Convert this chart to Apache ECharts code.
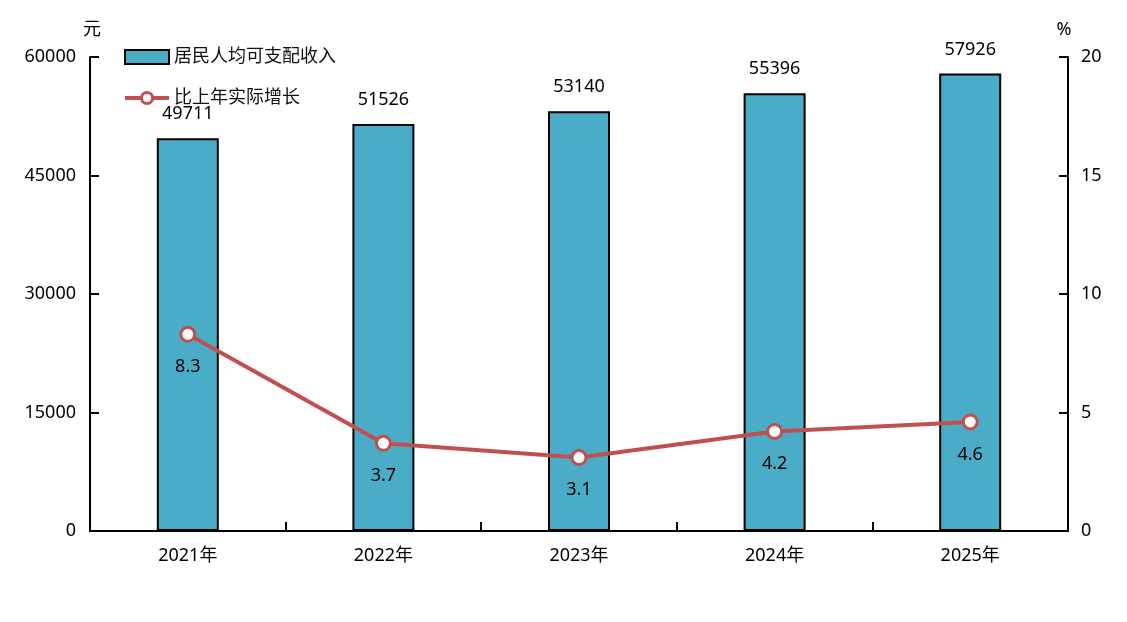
<!DOCTYPE html>
<html>
<head>
<meta charset="utf-8">
<script src="https://cdn.jsdelivr.net/npm/echarts@6/dist/echarts.min.js"></script>
<style>
    html, body { margin: 0; padding: 0; background: #fff; }
    #main { width: 1127px; height: 622px; }
</style>
</head>
<body>
<div id="main"></div>
<script>
var years = ['2021年', '2022年', '2023年', '2024年', '2025年'];
var income = [49711, 51526, 53140, 55396, 57926];
var growth = [8.3, 3.7, 3.1, 4.2, 4.6];

~function () {
    var myChart = echarts.init(document.getElementById('main'));
    var font = '"Noto Sans", "Noto Sans CJK SC", sans-serif';
    var option = {
        animation: false,
        textStyle: {fontFamily: font},
        legend: {
            orient: 'vertical',
            left: 118,
            top: 43,
            itemWidth: 44,
            itemHeight: 14,
            itemGap: 23,
            textStyle: {fontSize: 18, color: '#111', fontFamily: font},
            data: [
                {name: '居民人均可支配收入', icon: 'rect', itemStyle: {borderWidth: 2, borderColor: '#000'}},
                {name: '比上年实际增长', itemStyle: {borderWidth: 3}, lineStyle: {width: 4}}
            ]
        },
        grid: {
            left: 90,
            right: 59,
            top: 57,
            bottom: 91,
            containLabel: false
        },
        xAxis: [
            {
                type: 'category',
                data: years,
                axisLine: {lineStyle: {color: '#000', width: 2}},
                axisTick: {show: true, inside: true, length: 9, lineStyle: {color: '#000', width: 2}},
                axisLabel: {fontSize: 18, color: '#000', margin: 16}
            }
        ],
        yAxis: [
            {
                type: 'value',
                min: 0,
                max: 60000,
                interval: 15000,
                name: '元',
                nameGap: 18,
                nameTextStyle: {fontSize: 18, color: '#000', padding: [0, 0, 0, 4]},
                splitLine: {show: false},
                axisLine: {show: true, lineStyle: {color: '#000', width: 2}},
                axisTick: {show: true, inside: true, length: 9, lineStyle: {color: '#000', width: 2}},
                axisLabel: {
                    fontSize: 18,
                    color: '#000',
                    margin: 14,
                    formatter: function (v) { return String(v); }
                }
            },
            {
                type: 'value',
                min: 0,
                max: 20,
                interval: 5,
                name: '%',
                nameGap: 18,
                nameTextStyle: {fontSize: 18, color: '#000', padding: [0, 8, 0, 0]},
                splitLine: {show: false},
                axisLine: {show: true, lineStyle: {color: '#000', width: 2}},
                axisTick: {show: true, inside: true, length: 9, lineStyle: {color: '#000', width: 2}},
                axisLabel: {fontSize: 18, color: '#000', margin: 13}
            }
        ],
        series: [
            {
                name: '居民人均可支配收入',
                type: 'bar',
                data: income,
                barWidth: 62,
                itemStyle: {color: '#4AACC6', borderColor: '#000', borderWidth: 2},
                label: {
                    show: true,
                    position: 'top',
                    distance: 15,
                    fontSize: 18,
                    color: '#000'
                }
            },
            {
                name: '比上年实际增长',
                type: 'line',
                yAxisIndex: 1,
                data: growth,
                symbol: 'circle',
                symbolSize: 14,
                lineStyle: {color: '#C0504D', width: 4},
                itemStyle: {color: '#fff', borderColor: '#C0504D', borderWidth: 3},
                label: {
                    show: true,
                    position: 'bottom',
                    distance: 15,
                    fontSize: 18,
                    color: '#000'
                }
            }
        ]
    };
    myChart.setOption(option);
}();
</script>
</body>
</html>
